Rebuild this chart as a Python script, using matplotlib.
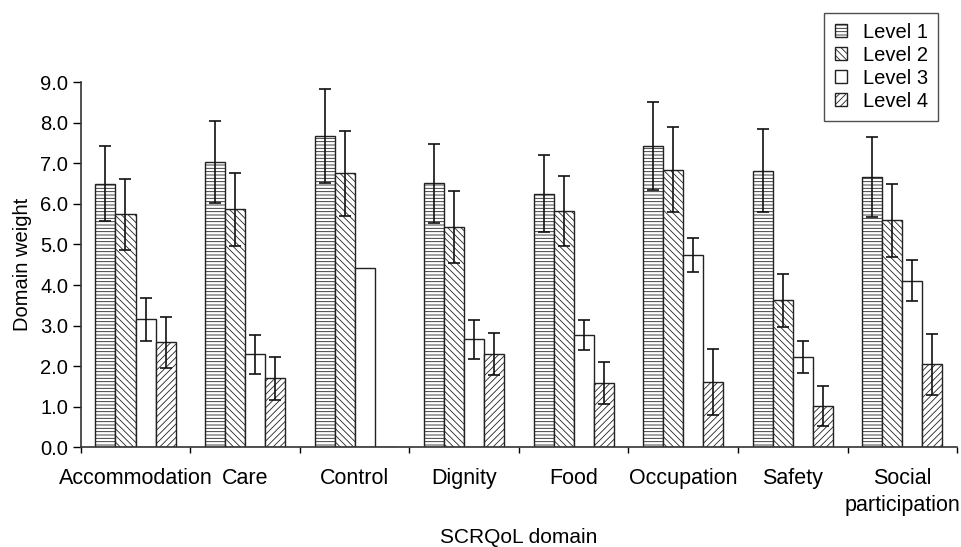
import numpy as np
import matplotlib
matplotlib.use('Agg')
from matplotlib import pyplot as plt

plt.rcParams['font.family'] = ['Liberation Sans', 'DejaVu Sans']
plt.rcParams['hatch.linewidth'] = 0.6

# data
domains = ['Accommodation', 'Care', 'Control', 'Dignity', 'Food',
           'Occupation', 'Safety', 'Social\nparticipation']
levels = ['Level 1', 'Level 2', 'Level 3', 'Level 4']

level1 = [6.50, 7.03, 7.67, 6.51, 6.25, 7.43, 6.82, 6.66]
level2 = [5.74, 5.87, 6.75, 5.43, 5.83, 6.84, 3.62, 5.60]
level3 = [3.16, 2.29, 4.43, 2.66, 2.77, 4.75, 2.23, 4.11]
level4 = [2.59, 1.70, 0.0, 2.30, 1.58, 1.62, 1.02, 2.05]

err1 = [0.93, 1.02, 1.15, 0.97, 0.95, 1.08, 1.03, 0.98]
err2 = [0.87, 0.90, 1.04, 0.88, 0.86, 1.05, 0.66, 0.90]
err3 = [0.53, 0.48, 0.0, 0.49, 0.38, 0.42, 0.40, 0.50]
err4 = [0.63, 0.52, 0.0, 0.52, 0.52, 0.81, 0.50, 0.75]

values = [level1, level2, level3, level4]
errors = [err1, err2, err3, err4]
hatches = ['-----', '\\\\\\\\\\', '', '/////']

fs = 14.5

fig = plt.figure(figsize=(9.61, 5.47), dpi=100)
ax = fig.add_axes([0.084, 0.182, 0.912, 0.668])

x = np.arange(len(domains))
width = 0.183
handles = []
for i in range(4):
    pos = x + (i - 1.5) * width
    b = ax.bar(pos, values[i], width, color='white', edgecolor='#222222',
               hatch=hatches[i], linewidth=1.0, label=levels[i])
    handles.append(b)
    # only draw error bars where there is one
    e = np.array(errors[i])
    m = e > 0
    ax.errorbar(pos[m], np.array(values[i])[m], yerr=e[m], fmt='none',
                ecolor='#111111', elinewidth=1.2, capsize=4, capthick=1.2)

ax.set_xlim(-0.5, len(domains) - 0.5)
ax.set_ylim(0, 9.0)
ax.set_yticks(np.arange(0, 9.1, 1.0))
ax.set_yticklabels([f'{v:.1f}' for v in np.arange(0, 9.1, 1.0)])

# ticks between categories, labels at the centres
ax.set_xticks(np.arange(-0.5, len(domains), 1.0))
ax.set_xticklabels([])
ax.set_xticks(x, minor=True)
ax.set_xticklabels(domains, minor=True, linespacing=1.35)
ax.tick_params(axis='x', which='major', length=4.5, direction='out', width=1)
ax.tick_params(axis='x', which='minor', length=0, pad=15, labelsize=15.5)
ax.tick_params(axis='y', length=6, width=1, labelsize=fs, pad=3)

for s in ['top', 'right']:
    ax.spines[s].set_visible(False)
for s in ['left', 'bottom']:
    ax.spines[s].set_color('#333333')
    ax.spines[s].set_linewidth(1.2)

ax.set_ylabel('Domain weight', fontsize=fs, labelpad=6)
ax.set_xlabel('SCRQoL domain', fontsize=15, labelpad=9)

leg = fig.legend(handles=handles, labels=levels, loc='upper right',
                 bbox_to_anchor=(0.976, 0.977), fontsize=fs, frameon=True,
                 fancybox=False, edgecolor='#222222', handlelength=0.6,
                 handleheight=0.6, handletextpad=0.8, borderpad=0.5,
                 labelspacing=0.2, borderaxespad=0)
leg.get_frame().set_linewidth(1.0)

fig.savefig('out.png', dpi=100)
